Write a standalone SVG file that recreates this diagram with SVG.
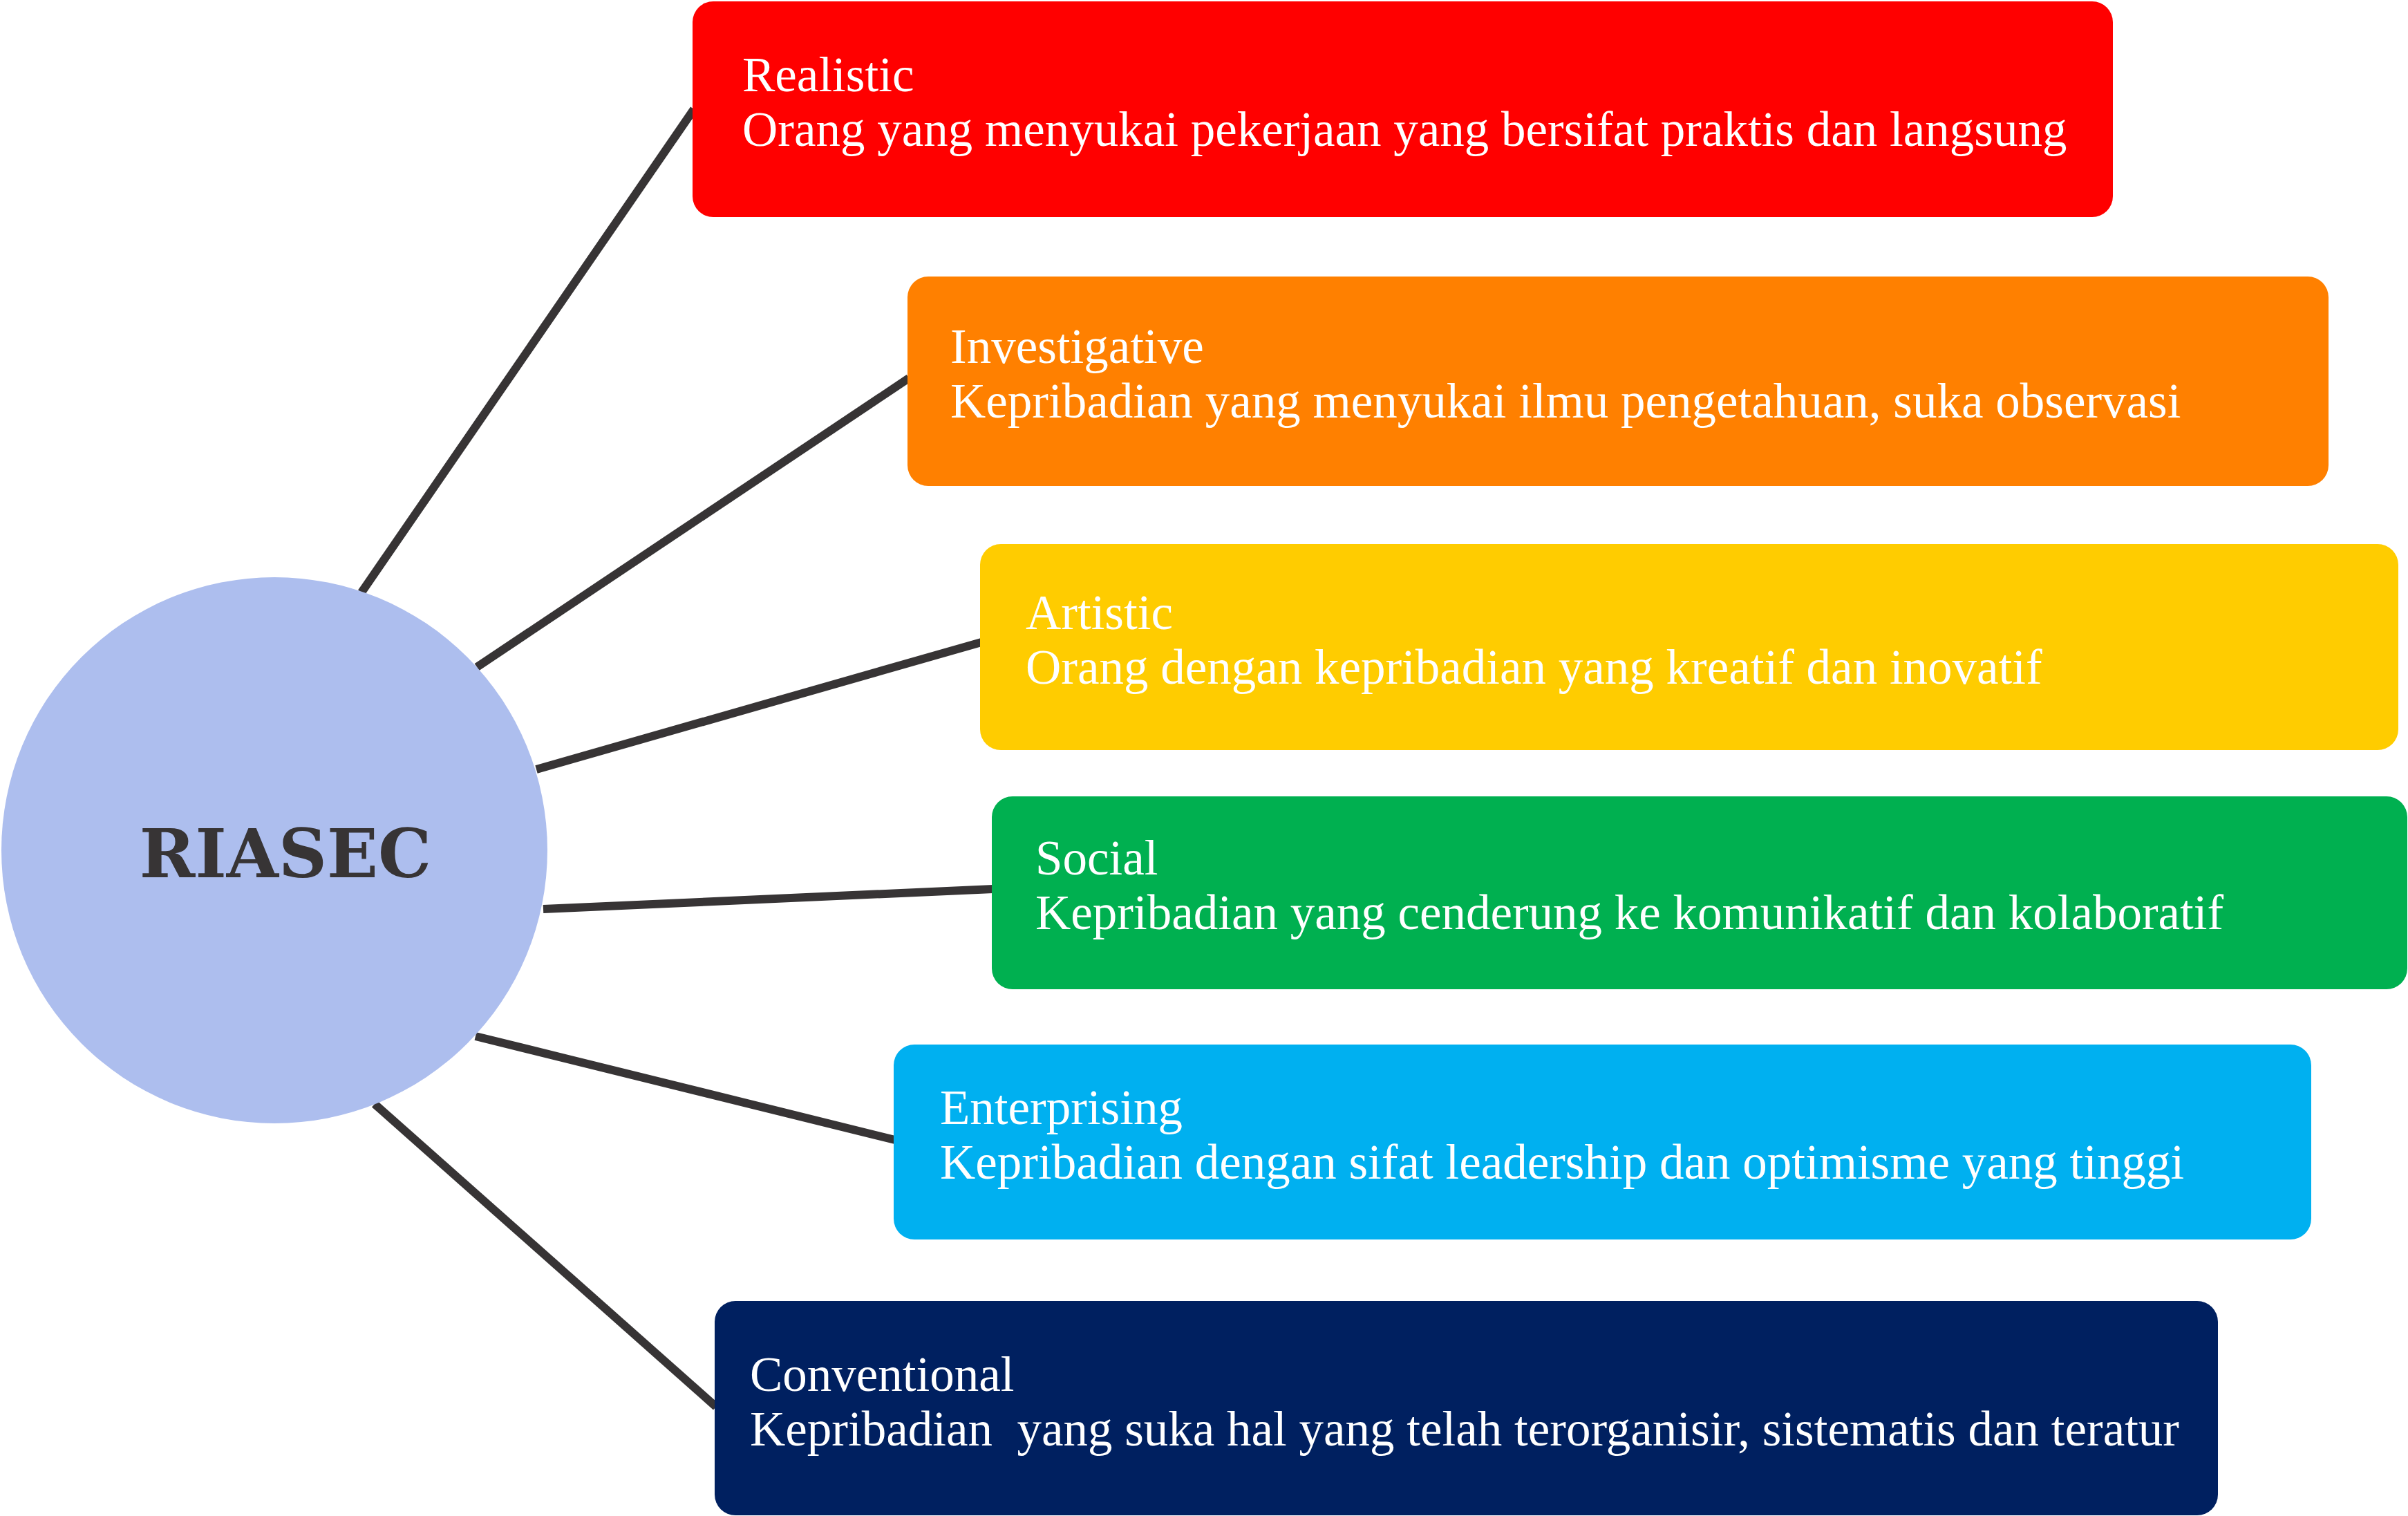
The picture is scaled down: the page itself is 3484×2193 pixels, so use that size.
<svg xmlns="http://www.w3.org/2000/svg" width="3484" height="2193" viewBox="0 0 3484 2193">
<style>
.box{stroke:none}
.t{font-family:"Liberation Serif","Times New Roman",serif;font-size:71px;fill:#ffffff;white-space:pre}
.c{stroke:#373435;stroke-width:12;fill:none;stroke-linecap:butt}
.hub{font-family:"DejaVu Serif",serif;font-weight:bold;font-size:97px;fill:#373435}
</style>
<rect width="3484" height="2193" fill="#ffffff"/>
<g id="connectors">
<line class="c" x1="523" y1="857" x2="1004" y2="158"/>
<line class="c" x1="690" y1="965" x2="1315" y2="547"/>
<line class="c" x1="776" y1="1113" x2="1420" y2="929"/>
<line class="c" x1="786" y1="1315" x2="1437" y2="1286"/>
<line class="c" x1="688" y1="1499" x2="1295" y2="1649"/>
<line class="c" x1="542" y1="1597" x2="1036" y2="2035"/>
</g>
<g id="riasec">
<circle cx="397" cy="1230" r="395" fill="#adbeee"/>
<text class="hub" x="413" y="1269" text-anchor="middle">RIASEC</text>
</g>
<g id="realistic">
<rect class="box" x="1002" y="2" width="2055" height="312" rx="30" fill="#ff0000"/>
<text class="t" x="1074" y="132">Realistic</text>
<text class="t" x="1074" y="211">Orang yang menyukai pekerjaan yang bersifat praktis dan langsung</text>
</g>
<g id="investigative">
<rect class="box" x="1313" y="400" width="2056" height="303" rx="30" fill="#ff8000"/>
<text class="t" x="1375" y="525">Investigative</text>
<text class="t" x="1375" y="604">Kepribadian yang menyukai ilmu pengetahuan, suka observasi</text>
</g>
<g id="artistic">
<rect class="box" x="1418" y="787" width="2052" height="298" rx="30" fill="#ffcc00"/>
<text class="t" x="1484" y="910">Artistic</text>
<text class="t" x="1484" y="989">Orang dengan kepribadian yang kreatif dan inovatif</text>
</g>
<g id="social">
<rect class="box" x="1435" y="1152" width="2048" height="279" rx="30" fill="#00b050"/>
<text class="t" x="1498" y="1265">Social</text>
<text class="t" x="1498" y="1344">Kepribadian yang cenderung ke komunikatif dan kolaboratif</text>
</g>
<g id="enterprising">
<rect class="box" x="1293" y="1511" width="2051" height="282" rx="30" fill="#00b0f0"/>
<text class="t" x="1360" y="1626">Enterprising</text>
<text class="t" x="1360" y="1705">Kepribadian dengan sifat leadership dan optimisme yang tinggi</text>
</g>
<g id="conventional">
<rect class="box" x="1034" y="1882" width="2175" height="310" rx="30" fill="#002060"/>
<text class="t" x="1085" y="2012">Conventional</text>
<text class="t" x="1085" y="2091">Kepribadian  yang suka hal yang telah terorganisir, sistematis dan teratur</text>
</g>
</svg>
